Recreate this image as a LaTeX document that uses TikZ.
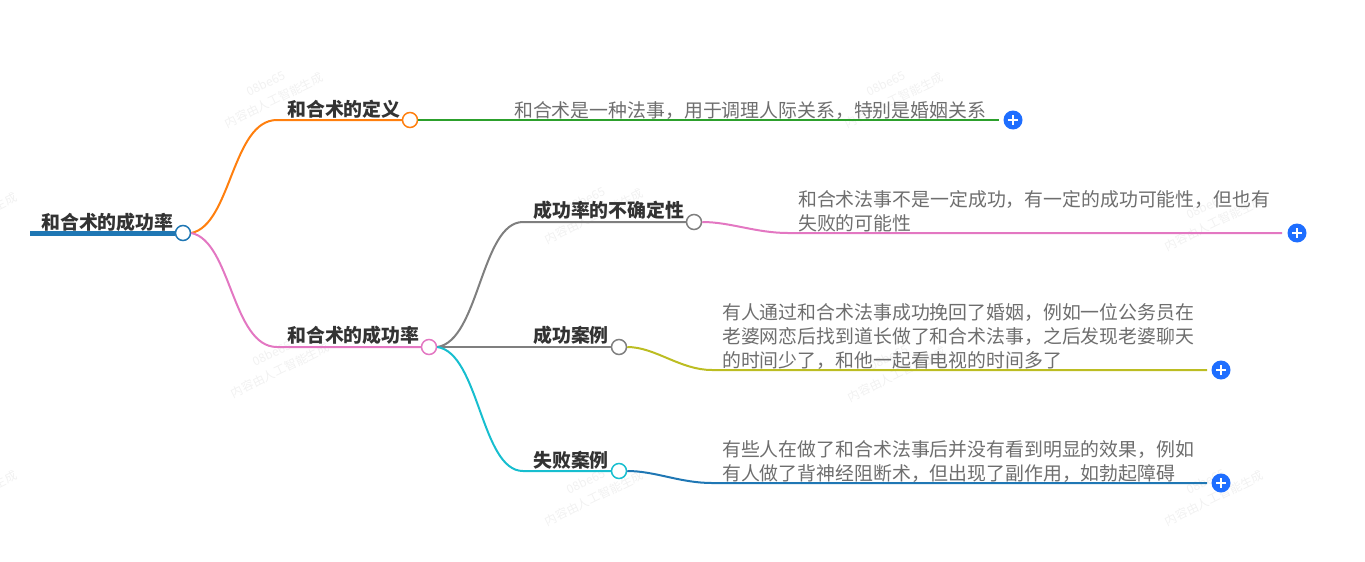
\documentclass[tikz,border=0pt]{standalone}
\usepackage{fontspec}
\setmainfont{Noto Sans CJK SC}
\usepackage{tikz}
\usetikzlibrary{positioning, calc}

\definecolor{rootblue}{HTML}{1F77B4}
\definecolor{deforange}{HTML}{FF7F0E}
\definecolor{defgreen}{HTML}{2CA02C}
\definecolor{ratepink}{HTML}{E377C2}
\definecolor{midgray}{HTML}{7F7F7F}
\definecolor{caseolive}{HTML}{BCBD22}
\definecolor{casecyan}{HTML}{17BECF}
\definecolor{plusblue}{HTML}{1E6EFF}
\definecolor{titleink}{HTML}{333333}
\definecolor{noteink}{HTML}{6E6E6E}
\definecolor{markink}{HTML}{F1F1F1}

\tikzset{
  titletext/.style={anchor=base west, inner sep=0pt, text=titleink, font=\fontsize{18.9}{24}\selectfont\bfseries},
  notetext/.style={anchor=base west, inner sep=0pt, text=noteink, align=left, font=\fontsize{18.88}{24.2}\selectfont},
  dot/.style={circle, draw=#1, fill=white, line width=1.5pt, minimum size=15pt, inner sep=0pt},
  plusdot/.style={circle, fill=plusblue, minimum size=19pt, inner sep=0pt},
  plusarm/.style={draw=white, line width=1.4pt},
  link/.style={line width=2pt, draw=#1},
  marktext/.style={inner sep=0pt, rotate=26, text=markink, align=center, font=\fontsize{12}{19}\selectfont}
}

\begin{document}
\begin{tikzpicture}[x=1pt,y=-1pt]
\useasboundingbox (0,0) rectangle (1365,562);

% watermarks
\foreach \mx/\my in {270/92, 890/92, 276/362, 893/366, 590/208, 1210/215, 590/490, 1210/490, -36/212, -36/490}
  \node[marktext] (mark\mx\my) at (\mx,\my) {08be65\\内容由人工智能生成};

% root
\coordinate (rootstart) at (30,233);
\node[dot=rootblue] (rootdot) at (183,233) {};
\draw[link=rootblue, line width=5pt] (rootstart) -- (rootdot.west);
\node[titletext] (roottext) at (41,229) {和合术的成功率};

% first level dots
\node[dot=deforange] (defdot) at (410,120) {};
\node[dot=ratepink] (ratedot) at (429,347) {};
\coordinate (defbend) at (277,120);
\coordinate (ratebend) at (277,347);

\draw[link=deforange] (rootdot.east) .. controls +(40,-8) and +(-45,0) .. (defbend) -- (defdot.west);
\draw[link=ratepink] (rootdot.east) .. controls +(40,8) and +(-45,0) .. (ratebend) -- (ratedot.west);
\node[titletext] (deftext) at (287,116) {和合术的定义};
\node[titletext] (ratetext) at (287,342) {和合术的成功率};

% second level dots
\node[dot=midgray] (unsuredot) at (694,222) {};
\node[dot=midgray] (gooddot) at (619,347) {};
\node[dot=casecyan] (baddot) at (619,471) {};
\coordinate (unsurebend) at (523,222);
\coordinate (goodbend) at (523,347);
\coordinate (badbend) at (523,471);

\draw[link=midgray] (ratedot.east) .. controls +(42,-6) and +(-42,0) .. (unsurebend) -- (unsuredot.west);
\draw[link=midgray] (ratedot.east) -- (goodbend) -- (gooddot.west);
\draw[link=casecyan] (ratedot.east) .. controls +(42,6) and +(-42,0) .. (badbend) -- (baddot.west);
\node[titletext] (unsuretext) at (533,217) {成功率的不确定性};
\node[titletext] (goodtext) at (533,342) {成功案例};
\node[titletext] (badtext) at (533,467) {失败案例};

% plus buttons
\foreach \pname/\px/\py in {defplus/1013/120, unsureplus/1297/233, goodplus/1221/370, badplus/1221/483} {
  \node[plusdot] (\pname) at (\px,\py) {};
  \draw[plusarm] ($(\pname)+(-5,0)$) -- ($(\pname)+(5,0)$);
  \draw[plusarm] ($(\pname)+(0,-5)$) -- ($(\pname)+(0,5)$);
}

% leaves
\coordinate (defleaf) at (505,120);
\coordinate (unsureleaf) at (788,233);
\coordinate (goodleaf) at (712,370);
\coordinate (badleaf) at (712,483);
\coordinate (defend) at (999,120);
\coordinate (unsureend) at (1282,233);
\coordinate (goodend) at (1207,370);
\coordinate (badend) at (1207,483);

\draw[link=defgreen] (defdot.east) -- (defleaf) -- (defend);
\draw[link=ratepink] (unsuredot.east) .. controls +(28,0) and +(-32,0) .. (unsureleaf) -- (unsureend);
\draw[link=caseolive] (gooddot.east) .. controls +(28,0) and +(-32,0) .. (goodleaf) -- (goodend);
\draw[link=rootblue] (baddot.east) .. controls +(28,0) and +(-32,0) .. (badleaf) -- (badend);

\node[notetext] (defnote) at (514,117) {和合术是一种法事，用于调理人际关系，特别是婚姻关系};
\node[notetext, anchor=south west] (unsurenote) at (798,232) {和合术法事不是一定成功，有一定的成功可能性，但也有\\失败的可能性};
\node[notetext, anchor=south west] (goodnote) at (722,370) {有人通过和合术法事成功挽回了婚姻，例如一位公务员在\\老婆网恋后找到道长做了和合术法事，之后发现老婆聊天\\的时间少了，和他一起看电视的时间多了};
\node[notetext, anchor=south west] (badnote) at (722,483) {有些人在做了和合术法事后并没有看到明显的效果，例如\\有人做了背神经阻断术，但出现了副作用，如勃起障碍};
\end{tikzpicture}
\end{document}
